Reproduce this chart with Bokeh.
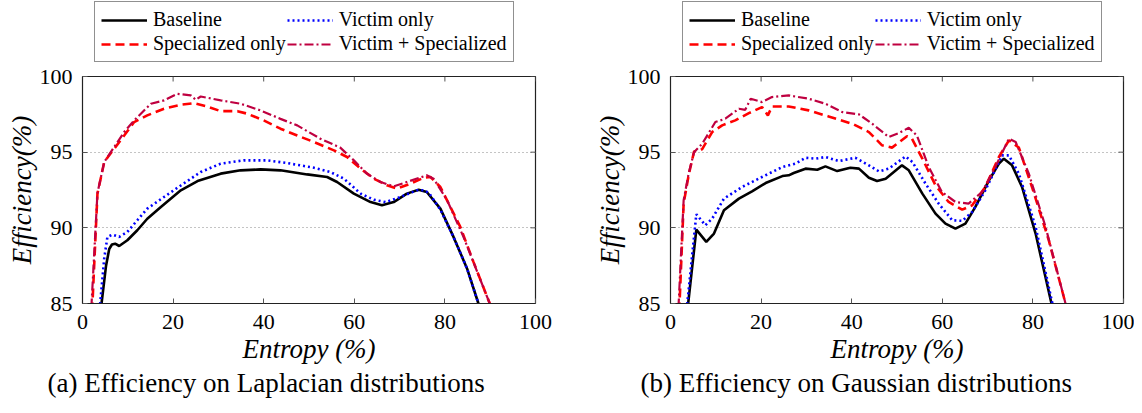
import math
from bokeh.plotting import figure
from bokeh.models import Legend, LegendItem, Title, Range1d, FixedTicker
from bokeh.layouts import row, column
from bokeh.embed import file_html
from bokeh.resources import INLINE

SERIES_NAMES = ["Baseline", "Victim only", "Specialized only", "Victim + Specialized"]
X_TICKS = [0, 20, 40, 60, 80, 100]
Y_TICKS = [85, 90, 95, 100]
X_LABEL = "Entropy (%)"
Y_LABEL = "Efficiency(%)"

# Laplacian
lap_base_x = [3.6, 4.2, 5.2, 5.9, 6.5, 7.2, 8.1, 9.9, 12.1, 14.3, 17.3, 21.7, 25.4, 30.5, 34.9, 39.3, 43.7, 49.6, 54.0, 56.2, 59.9, 63.6, 66.1, 68.7, 71.6, 74.2, 76.0, 79.0, 81.9, 84.9, 87.4, 89.0]
lap_base_y = [80.0, 85.0, 87.5, 88.6, 88.9, 88.95, 88.8, 89.18, 89.84, 90.6, 91.38, 92.48, 93.09, 93.58, 93.8, 93.86, 93.8, 93.53, 93.36, 93.03, 92.26, 91.7, 91.49, 91.7, 92.26, 92.52, 92.37, 91.27, 89.4, 87.3, 85.0, 83.5]
lap_vict_x = [3.3, 3.9, 4.8, 5.5, 6.6, 8.1, 9.9, 12.1, 14.3, 18.0, 21.7, 26.1, 30.5, 35.6, 40.8, 45.2, 51.1, 54.7, 57.7, 61.4, 64.3, 66.9, 70.2, 73.8, 75.3, 76.5, 79.0, 81.9, 84.9, 87.4, 89.0]
lap_vict_y = [80.0, 85.0, 88.0, 89.4, 89.55, 89.4, 89.73, 90.5, 91.27, 92.04, 92.8, 93.69, 94.24, 94.46, 94.46, 94.28, 93.97, 93.69, 93.25, 92.26, 91.86, 91.7, 92.04, 92.48, 92.48, 92.3, 91.2, 89.4, 87.3, 85.0, 83.5]
lap_spec_x = [1.5, 2.2, 3.3, 4.8, 7.0, 9.2, 11.4, 14.3, 18.0, 21.7, 24.6, 27.5, 30.5, 34.2, 36.4, 40.0, 43.7, 47.4, 51.1, 55.5, 58.4, 61.4, 64.3, 67.2, 69.4, 72.4, 75.3, 76.8, 79.0, 83.4, 86.3, 89.9, 92.0]
lap_spec_y = [78.0, 85.0, 92.26, 94.35, 95.23, 96.1, 96.99, 97.43, 97.87, 98.13, 98.24, 98.02, 97.71, 97.71, 97.54, 97.1, 96.55, 96.1, 95.67, 95.12, 94.68, 93.91, 93.25, 92.81, 92.59, 92.92, 93.31, 93.36, 92.7, 90.06, 87.75, 85.0, 83.4]
lap_both_x = [1.4, 2.0, 3.3, 4.8, 7.0, 9.2, 11.4, 15.1, 18.0, 20.9, 23.9, 25.0, 26.1, 30.5, 34.9, 39.3, 43.7, 47.4, 52.5, 56.9, 59.9, 62.8, 65.8, 68.7, 71.6, 76.0, 77.5, 80.5, 84.1, 89.9, 92.0]
lap_both_y = [78.0, 85.0, 92.3, 94.35, 95.34, 96.33, 97.1, 98.2, 98.42, 98.86, 98.75, 98.46, 98.68, 98.42, 98.2, 97.76, 97.2, 96.77, 95.89, 95.3, 94.46, 93.58, 93.03, 92.74, 93.03, 93.47, 93.25, 91.82, 89.4, 85.0, 83.5]

# Gaussian
gau_base_x = [3.3, 3.9, 5.7, 7.9, 9.6, 11.8, 15.1, 18.0, 21.0, 24.7, 26.1, 27.2, 29.8, 32.4, 34.2, 36.8, 39.7, 41.6, 43.8, 45.6, 47.5, 51.1, 52.6, 55.6, 58.5, 60.7, 62.9, 65.1, 67.3, 70.3, 72.5, 73.6, 75.4, 77.6, 80.6, 84.1, 86.0]
gau_base_y = [80.0, 85.0, 89.88, 89.07, 89.62, 91.16, 91.93, 92.41, 92.96, 93.42, 93.47, 93.62, 93.91, 93.84, 94.06, 93.75, 93.97, 93.91, 93.31, 93.09, 93.25, 94.13, 93.8, 92.26, 90.94, 90.28, 89.95, 90.28, 91.38, 93.14, 94.24, 94.57, 94.13, 92.7, 89.62, 85.0, 82.5]
gau_vict_x = [3.1, 3.7, 5.7, 7.7, 9.2, 11.8, 15.8, 20.2, 24.7, 27.6, 29.8, 32.0, 34.2, 37.2, 40.8, 43.8, 46.0, 48.2, 51.9, 53.4, 56.3, 59.2, 62.2, 64.4, 66.6, 69.5, 73.2, 74.7, 76.9, 80.6, 84.3, 86.0]
gau_vict_y = [80.0, 85.0, 90.9, 90.17, 90.61, 91.93, 92.7, 93.36, 94.02, 94.24, 94.63, 94.57, 94.68, 94.41, 94.63, 94.13, 93.73, 93.91, 94.72, 94.35, 92.92, 91.6, 90.5, 90.46, 91.05, 92.48, 94.79, 94.79, 93.58, 90.06, 85.0, 82.5]
gau_spec_x = [1.4, 2.0, 2.9, 4.0, 5.2, 7.0, 9.2, 11.4, 14.3, 17.3, 20.2, 21.5, 22.4, 26.1, 30.5, 34.9, 40.1, 43.8, 46.7, 48.9, 52.2, 53.3, 55.6, 58.5, 61.4, 64.4, 66.6, 69.5, 72.5, 74.7, 76.9, 79.8, 83.5, 87.2, 89.0]
gau_spec_y = [78.0, 85.0, 91.6, 93.47, 95.04, 95.2, 96.33, 96.77, 97.1, 97.58, 97.98, 97.43, 98.02, 98.02, 97.76, 97.36, 96.88, 96.33, 95.45, 95.3, 96.05, 95.89, 94.57, 92.81, 91.71, 91.2, 91.49, 92.7, 94.68, 95.78, 95.3, 92.7, 89.18, 85.0, 83.0]
gau_both_x = [1.2, 1.8, 2.9, 4.0, 5.2, 7.0, 9.9, 12.1, 15.1, 16.5, 17.7, 20.2, 22.4, 26.1, 30.5, 34.2, 37.9, 41.6, 44.5, 48.2, 50.4, 52.6, 54.4, 57.0, 59.9, 62.9, 65.8, 68.8, 71.7, 74.7, 76.2, 79.1, 82.8, 87.2, 89.0]
gau_both_y = [78.0, 85.0, 91.82, 93.58, 95.0, 95.56, 96.99, 97.21, 97.87, 97.8, 98.53, 98.31, 98.64, 98.75, 98.53, 98.2, 97.65, 97.5, 96.88, 96.0, 96.26, 96.61, 96.1, 94.02, 92.37, 91.71, 91.6, 92.37, 94.02, 95.89, 95.67, 93.58, 90.06, 85.0, 83.0]

CAPTION_A = "(a) Efficiency on Laplacian distributions"
CAPTION_B = "(b) Efficiency on Gaussian distributions"

FONT = "Liberation Serif, DejaVu Serif, serif"
STYLES = [
    dict(line_color="black", line_width=2.6, line_dash="solid"),
    dict(line_color="#0000FF", line_width=2.6, line_dash="2 3"),
    dict(line_color="#FF0000", line_width=2.6, line_dash="9 5"),
    dict(line_color="#BF0040", line_width=2.2, line_dash="9 3 2 3"),
]


def make_legend_fig(series, width):
    # a strip above the plot that only holds the legend; its lines fall outside its range
    lf = figure(width=width, height=62, output_backend="svg", toolbar_location=None,
                x_range=Range1d(-20, -10), y_range=Range1d(0, 1),
                min_border=0, background_fill_color="white", border_fill_color="white")
    lf.axis.visible = False
    lf.grid.visible = False
    lf.outline_line_color = None
    rs = [lf.line(xs, ys, **st) for (xs, ys), st in zip(series, STYLES)]
    items = [LegendItem(label=n, renderers=[r]) for n, r in zip(SERIES_NAMES, rs)]
    legend = Legend(items=items, orientation="horizontal", ncols=2,
                    location=(12, 0), margin=0, padding=6, spacing=1,
                    glyph_width=46, glyph_height=20, label_standoff=6,
                    label_width=130, label_height=20,
                    label_text_font=FONT, label_text_font_size="20px",
                    label_text_color="black",
                    border_line_color="#222222", border_line_width=1.2,
                    background_fill_alpha=1.0)
    lf.add_layout(legend, "center")
    return lf


def make_plot(series, caption, width, bl, br, cap_offset):
    p = figure(width=width, height=346, output_backend="svg", toolbar_location=None,
               x_range=Range1d(0, 100), y_range=Range1d(85, 100),
               min_border_left=bl, min_border_right=br, min_border_top=14,
               min_border_bottom=105, background_fill_color="white",
               border_fill_color="white")
    p.outline_line_color = "#222222"
    p.outline_line_width = 1.2
    for (xs, ys), st in zip(series, STYLES):
        p.line(xs, ys, **st)
    # inward tick marks on the top and right frame edges
    p.ray(x=X_TICKS, y=[100] * len(X_TICKS), length=5, length_units="screen",
          angle=-math.pi / 2, line_color="#555555", line_width=1)
    p.ray(x=[100] * len(Y_TICKS), y=Y_TICKS, length=5, length_units="screen",
          angle=math.pi, line_color="#555555", line_width=1)
    for ax in (p.xaxis[0], p.yaxis[0]):
        ax.major_tick_in = 5
        ax.major_tick_out = 0
        ax.minor_tick_in = 0
        ax.minor_tick_out = 0
        ax.axis_line_color = "#222222"
        ax.major_tick_line_color = "#555555"
        ax.major_label_text_font = FONT
        ax.major_label_text_font_size = "22px"
        ax.major_label_text_color = "black"
    p.xaxis[0].major_label_standoff = 11
    p.yaxis[0].major_label_standoff = 10
    p.xaxis[0].ticker = FixedTicker(ticks=X_TICKS)
    p.yaxis[0].ticker = FixedTicker(ticks=Y_TICKS)
    p.xgrid.visible = False
    p.ygrid.ticker = FixedTicker(ticks=[90, 95])
    p.ygrid.grid_line_color = "#888888"
    p.ygrid.grid_line_dash = "1 3"
    p.ygrid.grid_line_width = 1

    # axis titles as Title annotations so that the serif italic face is used
    ylab = Title(text=Y_LABEL, align="center", standoff=0, text_font=FONT,
                 text_font_size="27px", text_font_style="italic", text_color="black")
    p.add_layout(ylab, "left")
    xlab = Title(text=X_LABEL, align="center", standoff=0, text_font=FONT,
                 text_font_size="27px", text_font_style="italic", text_color="black")
    p.add_layout(xlab, "below")
    t = Title(text=caption, align="left", offset=cap_offset, standoff=4, text_font=FONT,
              text_font_size="27px", text_font_style="normal", text_color="black")
    p.add_layout(t, "below")
    return p


lap = [(lap_base_x, lap_base_y), (lap_vict_x, lap_vict_y),
       (lap_spec_x, lap_spec_y), (lap_both_x, lap_both_y)]
gau = [(gau_base_x, gau_base_y), (gau_vict_x, gau_vict_y),
       (gau_spec_x, gau_spec_y), (gau_both_x, gau_both_y)]

c1 = column(make_legend_fig(lap, 588), make_plot(lap, CAPTION_A, 588, 82, 53, -35), spacing=0)
c2 = column(make_legend_fig(gau, 546), make_plot(gau, CAPTION_B, 546, 82, 11, -30), spacing=0)

layout = row(c1, c2, spacing=0)
open("out.html", "w").write(file_html(layout, INLINE))
